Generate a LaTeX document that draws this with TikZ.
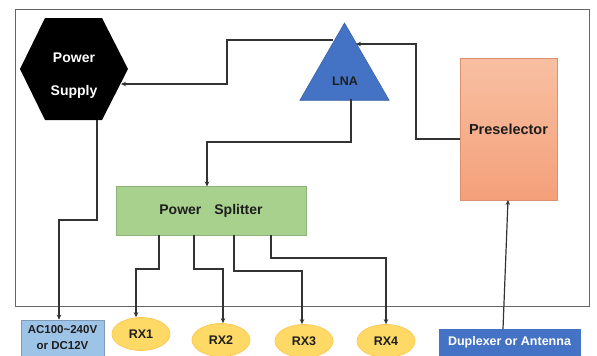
\documentclass[tikz,border=0pt]{standalone}
\usepackage{fontspec}
\setmainfont{Liberation Sans}
\usetikzlibrary{shapes.geometric,arrows.meta}
\definecolor{lnablue}{HTML}{4472C4}
\definecolor{preA}{HTML}{F8C0A2}
\definecolor{preB}{HTML}{F4A07A}
\definecolor{spgreen}{HTML}{A9D18E}
\definecolor{rxyel}{HTML}{FFD966}
\definecolor{acblue}{HTML}{9DC3E6}
\definecolor{linec}{HTML}{333333}
\definecolor{txt}{HTML}{1E1E1E}
\tikzset{
  arr/.style={draw=linec, line width=1.1pt, -{Stealth[length=5pt,width=4.5pt]}},
  rxnode/.style={ellipse, fill=rxyel, draw=rxyel!80!orange, line width=0.7pt, minimum width=58pt, minimum height=33pt, inner sep=0pt, text=txt, font=\fontsize{12.5}{14}\selectfont\bfseries},
  lbl/.style={text=txt, font=\bfseries}
}
\begin{document}
\begin{tikzpicture}[x=1pt,y=-1pt]
\useasboundingbox (0,0) rectangle (597,356);
% outer frame
\draw[draw=gray!80!black, line width=0.8pt] (15,9) rectangle (589,306);
% power supply hexagon
\fill[black] (45,18) -- (102,18) -- (128,69) -- (102,120) -- (45,120) -- (20,69) -- cycle;
\node[text=white, align=center, font=\fontsize{14}{33}\selectfont\bfseries] (ps) at (74,76) {Power\\Supply};
% LNA
\node[regular polygon, regular polygon sides=3, minimum size=103pt, inner sep=0pt, fill=lnablue, draw=lnablue!85!black, line width=0.6pt] (lna) at (344.5,74.5) {};
\node[lbl, font=\fontsize{12.5}{14}\selectfont\bfseries] (lnat) at (345,81) {LNA};
% Preselector
\node[rectangle, minimum width=97pt, minimum height=142pt, top color=preA, bottom color=preB, draw=preB!90!black, line width=0.5pt, text=txt, font=\fontsize{14.5}{16}\selectfont\bfseries] (pre) at (508.5,129) {Preselector};
% Power splitter
\node[rectangle, minimum width=190pt, minimum height=49pt, fill=spgreen, draw=spgreen!85!black, line width=0.6pt, text=txt, font=\fontsize{14}{16}\selectfont\bfseries] (sp) at (211,210.5) {Power\hspace{13pt}Splitter};
% AC box
\node[rectangle, minimum width=83pt, minimum height=36pt, fill=acblue, draw=acblue!80!black, line width=0.6pt, inner sep=1pt, align=center, text=txt, font=\fontsize{11.5}{16}\selectfont\bfseries] (ac) at (62.5,338) {AC100\textasciitilde240V\\or DC12V};
% RX ellipses
\node[rxnode] (rx1) at (141,334) {RX1};
\node[rxnode] (rx2) at (221,340) {RX2};
\node[rxnode] (rx3) at (304,341) {RX3};
\node[rxnode] (rx4) at (386,341) {RX4};
% Duplexer
\node[rectangle, minimum width=141pt, minimum height=27pt, fill=lnablue, draw=lnablue, text=white, font=\fontsize{12.5}{14}\selectfont\bfseries] (dup) at (509.5,342.5) {Duplexer or Antenna};
% coordinates on shape borders
\coordinate (lnaL) at (333,40);
\coordinate (lnaR) at (356,44);
\coordinate (lnaB) at (351,99);
\coordinate (psR) at (121,84);
\coordinate (psB) at (97,120);
\coordinate (preL) at (460,139);
\coordinate (preB) at (508,200);
\coordinate (dupT) at (503,329);
% connectors
\draw[arr] (lnaL) -- (227,40) -- (227,84) -- (psR);
\draw[arr] (preL) -- (416,139) -- (416,44) -- (lnaR);
\draw[arr] (lnaB) -- (351,142) -- (207,142) -- (207,186.5);
\draw[arr] (psB) -- (97,220) -- (59,220) -- (ac.north -| 59,0);
\draw[arr] (sp.south -| 159,0) -- (159,269) -- (136,269) -- (rx1.north -| 136,0);
\draw[arr] (sp.south -| 194,0) -- (194,269) -- (223,269) -- (rx2.north -| 223,0);
\draw[arr] (sp.south -| 234,0) -- (234,271) -- (302,271) -- (rx3.north -| 302,0);
\draw[arr] (sp.south -| 271,0) -- (271,258) -- (386,258) -- (rx4.north);
\draw[arr, line width=1.2pt] (dupT) -- (preB);
\end{tikzpicture}
\end{document}
